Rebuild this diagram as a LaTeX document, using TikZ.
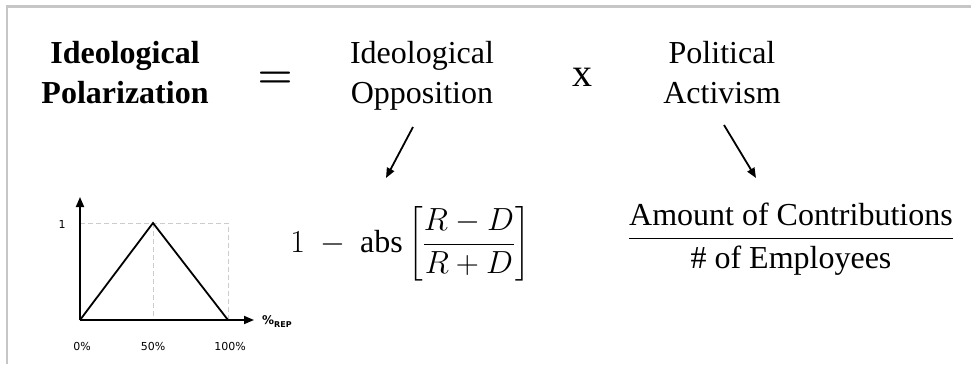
\documentclass[tikz,border=0pt]{standalone}
\usepackage{fix-cm}
\usepackage{amsmath}
\usepackage{fontspec}
\setmainfont{Liberation Serif}
\setsansfont{DejaVu Sans}
\usetikzlibrary{arrows.meta}

\begin{document}
\begin{tikzpicture}[x=1pt, y=-1pt,
    head/.style={font=\fontsize{32}{40}\selectfont\bfseries, align=center, anchor=base, inner sep=0pt},
    term/.style={font=\fontsize{32}{40}\selectfont, align=center, anchor=base, inner sep=0pt},
    bigsign/.style={font=\fontsize{40}{40}\selectfont, inner sep=0pt},
    pointer/.style={-{Triangle[length=10pt, width=8pt]}, line width=1.8pt},
    axisline/.style={-{Triangle[length=10pt, width=8pt]}, line width=1.8pt},
    guide/.style={gray!40, dash pattern=on 5pt off 3pt, line width=0.8pt},
    ticklabel/.style={font=\sffamily\fontsize{11}{11}\selectfont, inner sep=0pt}
]
    \useasboundingbox (0,0) rectangle (971,364);
    \draw[gray!45, line width=2.5pt] (971,6.5) -- (7,6.5) -- (7,364);

    % top equation
    \node[head] (polar) at (125,103) {Ideological\\Polarization};
    \node[bigsign] (equals) at (275,80) {$\boldsymbol{=}$};
    \node[term] (oppos) at (422,103) {Ideological\\Opposition};
    \node[bigsign] (times) at (582,77) {x};
    \node[term] (activ) at (722,103) {Political\\Activism};

    % measures
    \node[inner sep=0pt, font=\fontsize{32}{38}\selectfont] (ratio) at (410,244) {$1\ -\ \text{abs}\left[\dfrac{R-D}{R+D}\right]$};
    \node[inner sep=0pt, font=\fontsize{32}{38}\selectfont] (money) at (791,239) {$\dfrac{\text{Amount of Contributions}}{\text{\# of Employees}}$};

    \coordinate (oppos-out) at (413,127);
    \coordinate (ratio-in) at (386,178);
    \coordinate (activ-out) at (724,125);
    \coordinate (money-in) at (756,178);
    \draw[pointer] (oppos-out) -- (ratio-in);
    \draw[pointer] (activ-out) -- (money-in);

    % tent function
    \coordinate (orig) at (80,320);
    \coordinate (ytip) at (80,197);
    \coordinate (xtip) at (254,320);
    \coordinate (peak) at (153,223);
    \coordinate (full) at (228,320);
    \coordinate (corner) at (228,223);
    \coordinate (one) at (80,223);
    \coordinate (half) at (153,320);
    \draw[guide] (one) -- (corner) -- (full);
    \draw[guide] (peak) -- (half);
    \draw[axisline] (orig) -- (ytip);
    \draw[axisline] (orig) -- (xtip);
    \draw[line width=1.8pt, line join=miter] (orig) -- (peak) -- (full);
    \node[ticklabel] (lab-one) at (62,224) {1};
    \node[ticklabel] (lab-0) at (82,346) {0\%};
    \node[ticklabel] (lab-50) at (153,346) {50\%};
    \node[ticklabel] (lab-100) at (230,346) {100\%};
    \node[ticklabel, anchor=west, font=\sffamily\bfseries\fontsize{12}{12}\selectfont] (lab-rep) at (262,322) {\%\raisebox{-3pt}{\fontsize{8}{8}\selectfont REP}};
\end{tikzpicture}
\end{document}
